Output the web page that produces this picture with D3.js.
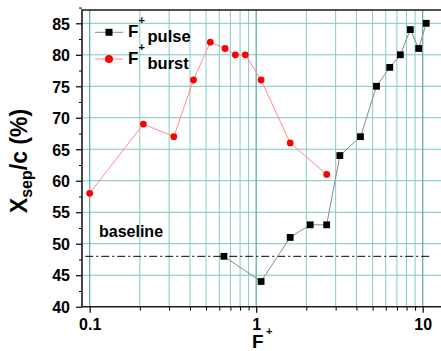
<!DOCTYPE html>
<html>
<head>
<meta charset="utf-8">
<script src="https://cdn.jsdelivr.net/npm/d3@7"></script>
<style>
  html, body { margin: 0; padding: 0; background: #fff; }
  svg { display: block; }
  text { font-family: "Liberation Sans", Arial, sans-serif; font-weight: bold; fill: #000; }
</style>
</head>
<body>
<svg id="chart" width="441" height="351"></svg>
<script>
// Separation length vs. reduced frequency F+, pulsed and burst forcing
const pulseF = [0.64, 1.07, 1.6, 2.11, 2.65, 3.18, 4.23, 5.28, 6.34, 7.34, 8.43, 9.46, 10.5];
const pulseX = [48, 44, 51, 53, 53, 64, 67, 75, 78, 80, 84, 81, 85];
const burstF = [0.1, 0.21, 0.32, 0.42, 0.53, 0.65, 0.75, 0.86, 1.07, 1.6, 2.65];
const burstX = [58, 69, 67, 76, 82, 81, 80, 80, 76, 66, 61];
const baselineValue = 48;
const baselineSpan = [0.094, 11.4];
const xTickValues = [0.1, 1, 10];
const xTickLabels = ["0.1", "1", "10"];
const yTickValues = [40, 45, 50, 55, 60, 65, 70, 75, 80, 85];

const svg = d3.select("#chart");
const plotL = 82, plotR = 441, plotT = 10, plotB = 306.7;

const x = d3.scaleLog().domain([0.1, 10]).range([89.7, 422.7]);
const y = d3.scaleLinear().domain([40, 85]).range([plotB, 23.3]);

// minor log positions within each full decade
const xMinor = [];
for (const d of [0.1, 1]) for (let k = 2; k <= 9; k++) xMinor.push(+(d * k).toFixed(2));
const yMinor = yTickValues.map(v => v + 2.5);

// grid
const grid = svg.append("g");
grid.selectAll(".hg").data(yTickValues.filter(v => v > 40)).join("line")
  .attr("x1", plotL).attr("x2", plotR)
  .attr("y1", d => y(d)).attr("y2", d => y(d))
  .attr("stroke", "#7cc6c0").attr("stroke-width", 1);
grid.selectAll(".vm").data(xMinor).join("line")
  .attr("x1", d => x(d)).attr("x2", d => x(d))
  .attr("y1", plotT).attr("y2", plotB)
  .attr("stroke", "#84cbc5").attr("stroke-width", 1);
grid.selectAll(".vM").data(xTickValues).join("line")
  .attr("x1", d => x(d)).attr("x2", d => x(d))
  .attr("y1", plotT).attr("y2", plotB)
  .attr("stroke", "#4fada6").attr("stroke-width", 1.2);

// axes
const xAxis = svg.append("g").attr("transform", `translate(0,${plotB})`)
  .call(d3.axisBottom(x).tickValues(xTickValues)
    .tickFormat((d, i) => xTickLabels[i]).tickSize(6));
xAxis.select(".domain").remove();
xAxis.selectAll("line").attr("stroke", "#000").attr("stroke-width", 1.2);
xAxis.selectAll("text").attr("y", 23).attr("dy", null)
  .style("font-size", "16px").attr("font-family", null);

const xAxisMinor = svg.append("g").attr("transform", `translate(0,${plotB})`)
  .call(d3.axisBottom(x).tickValues(xMinor).tickFormat("").tickSize(4));
xAxisMinor.select(".domain").remove();
xAxisMinor.selectAll("line").attr("stroke", "#000").attr("stroke-width", 1);

const yAxis = svg.append("g").attr("transform", `translate(${plotL},0)`)
  .call(d3.axisLeft(y).tickValues(yTickValues).tickSize(6).tickPadding(6));
yAxis.select(".domain").remove();
yAxis.selectAll("line").attr("stroke", "#000").attr("stroke-width", 1.2);
yAxis.selectAll("text").attr("dy", "0.36em")
  .style("font-size", "16px").attr("font-family", null);

const yAxisMinor = svg.append("g").attr("transform", `translate(${plotL},0)`)
  .call(d3.axisLeft(y).tickValues(yMinor).tickFormat("").tickSize(3));
yAxisMinor.select(".domain").remove();
yAxisMinor.selectAll("line").attr("stroke", "#000").attr("stroke-width", 1);

// frame
svg.append("path")
  .attr("d", `M${plotR},${plotT}H${plotL}V${plotB}H${plotR}`)
  .attr("fill", "none").attr("stroke", "#1a1a1a").attr("stroke-width", 1.6);

// baseline reference
svg.append("line")
  .attr("x1", x(baselineSpan[0])).attr("x2", x(baselineSpan[1]))
  .attr("y1", y(baselineValue)).attr("y2", y(baselineValue))
  .attr("stroke", "#000").attr("stroke-width", 1)
  .attr("stroke-dasharray", "8,3,2,3");
svg.append("text").attr("x", 99).attr("y", 237)
  .style("font-size", "16px").text("baseline");

// series
const line = d3.line().x(d => x(d[0])).y(d => y(d[1]));
const burst = burstF.map((f, i) => [f, burstX[i]]);
const pulse = pulseF.map((f, i) => [f, pulseX[i]]);

svg.append("path").datum(burst).attr("d", line)
  .attr("fill", "none").attr("stroke", "#ff8a8a").attr("stroke-width", 1);
svg.append("path").datum(pulse).attr("d", line)
  .attr("fill", "none").attr("stroke", "#8a8a8a").attr("stroke-width", 1);

svg.selectAll(".bm").data(burst).join("circle")
  .attr("cx", d => x(d[0])).attr("cy", d => y(d[1])).attr("r", 3.4)
  .attr("fill", "#ff0000");
svg.selectAll(".pm").data(pulse).join("rect")
  .attr("x", d => x(d[0]) - 3.4).attr("y", d => y(d[1]) - 3.4)
  .attr("width", 6.8).attr("height", 6.8).attr("fill", "#000");

// legend
const legend = [
  { name: "pulse", stroke: "#8a8a8a", fill: "#000", shape: "square", yy: 32.3 },
  { name: "burst", stroke: "#ff8a8a", fill: "#ff0000", shape: "circle", yy: 59 }
];
legend.forEach(l => {
  svg.append("line").attr("x1", 95).attr("x2", 123).attr("y1", l.yy).attr("y2", l.yy)
    .attr("stroke", l.stroke).attr("stroke-width", 1);
  if (l.shape === "square") {
    svg.append("rect").attr("x", 109 - 3.5).attr("y", l.yy - 3.5)
      .attr("width", 7).attr("height", 7).attr("fill", l.fill);
  } else {
    svg.append("circle").attr("cx", 109).attr("cy", l.yy).attr("r", 4).attr("fill", l.fill);
  }
  const t = svg.append("text").style("font-size", "16.5px");
  t.append("tspan").attr("x", 128).attr("y", l.yy + 4.6).style("font-size", "17px").text("F");
  t.append("tspan").attr("x", 138.5).attr("y", l.yy - 8).style("font-size", "11px").text("+");
  t.append("tspan").attr("x", 147.5).attr("y", l.yy + 9.5).text(l.name);
});

// axis titles
const xt = svg.append("text").style("font-size", "19px");
xt.append("tspan").attr("x", 252).attr("y", 348.3).text("F");
xt.append("tspan").attr("x", 266).attr("y", 334.5).style("font-size", "11px").text("+");

const yt = svg.append("text")
  .attr("transform", "translate(26.7,161) rotate(-90)")
  .attr("text-anchor", "middle").style("font-size", "23px");
yt.append("tspan").text("X");
yt.append("tspan").attr("dy", 5).style("font-size", "16px").text("sep");
yt.append("tspan").attr("dy", -5).text("/c (%)");
</script>
</body>
</html>
